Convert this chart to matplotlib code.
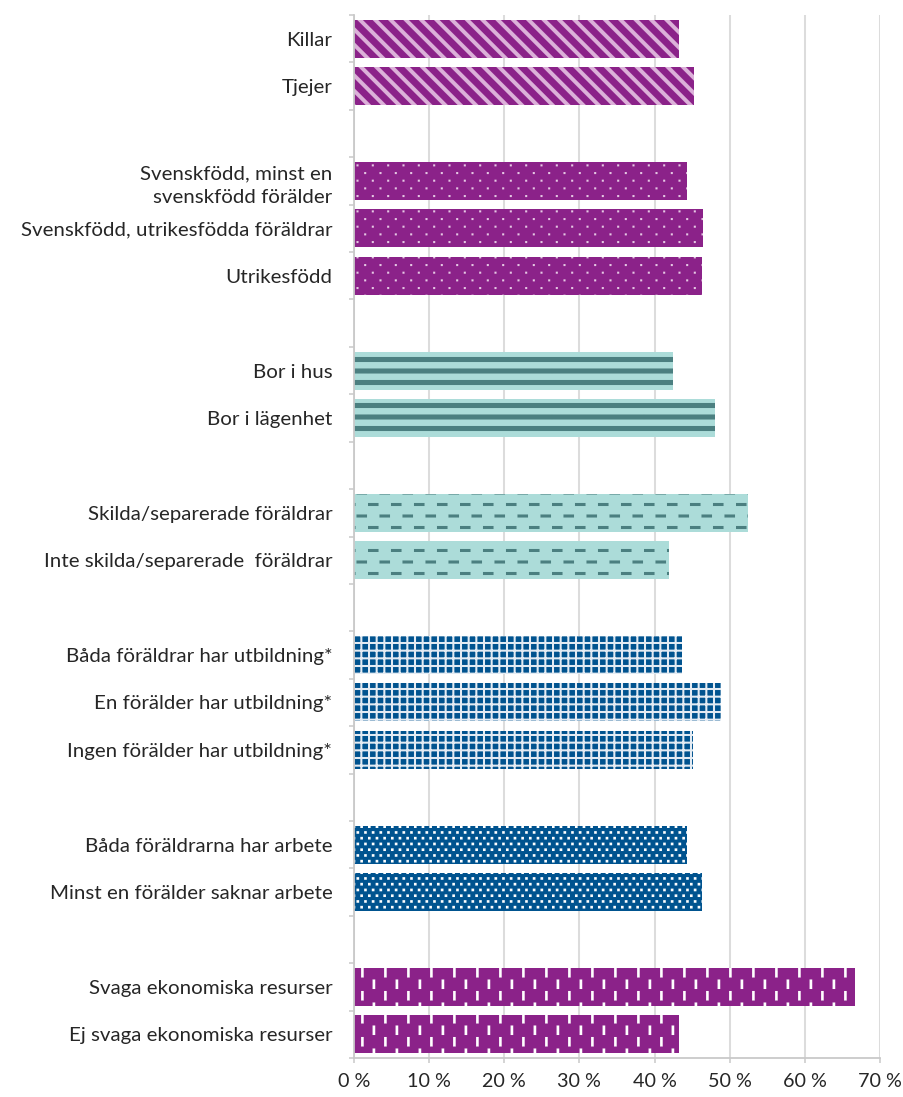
"""
Bar chart with Excel-like pattern fills, rebuilt in matplotlib.
Pattern fills are done with small custom hatch tiles (one tile = 1 inch).
"""
import matplotlib

matplotlib.use("Agg")
import matplotlib.hatch as mhatch
import matplotlib.pyplot as plt
from matplotlib.path import Path
from matplotlib.ticker import FixedLocator, FuncFormatter

DPI = 92  # hatch tile is dpi px wide, 92 gives the 23/11.5 px rhythm of the original

# ---------------------------------------------------------------- data
labels = [
    "Killar", "Tjejer",
    "Svenskfödd, minst en\nsvenskfödd förälder",
    "Svenskfödd, utrikesfödda föräldrar",
    "Utrikesfödd",
    "Bor i hus", "Bor i lägenhet",
    "Skilda/separerade föräldrar", "Inte skilda/separerade  föräldrar",
    "Båda föräldrar har utbildning*", "En förälder har utbildning*",
    "Ingen förälder har utbildning*",
    "Båda föräldrarna har arbete", "Minst en förälder saknar arbete",
    "Svaga ekonomiska resurser", "Ej svaga ekonomiska resurser",
]
values = [43.2, 45.3, 44.3, 46.5, 46.3, 42.4, 48.1, 52.4, 41.9,
          43.7, 48.8, 45.1, 44.3, 46.3, 66.7, 43.2]
group_sizes = [2, 3, 2, 2, 3, 2, 2]

# one (face, pattern colour, hatch key) per group
group_styles = [
    ("#8b2289", "#dcb1d9", "\\"),   # wide diagonal stripes
    ("#8b2289", "#e6c9e4", "."),    # sparse dots
    ("#acdcd9", "#4b7f80", "-"),    # horizontal stripes
    ("#acdcd9", "#4b7f80", "x"),    # dashed horizontal
    ("#00538f", "#e3ebf3", "+"),    # small grid
    ("#00538f", "#ffffff", "*"),    # dense dots
    ("#8b2289", "#ffffff", "|"),    # dashed vertical
]

x_ticks = [0, 10, 20, 30, 40, 50, 60, 70]


# ---------------------------------------------------------------- hatches
def px(n):
    return n / DPI


def rect(x0, y0, x1, y1):
    return [(x0, y0), (x1, y0), (x1, y1), (x0, y1), (x0, y0)]


class TileHatch(mhatch.HatchPatternBase):
    char = None

    def __init__(self, hatch, density):
        self.polys = self.make_polys() if self.char in hatch else []
        self.num_vertices = 5 * len(self.polys)

    def make_polys(self):
        return []

    def set_vertices_and_codes(self, vertices, codes):
        for i, poly in enumerate(self.polys):
            vertices[5 * i:5 * i + 5] = poly
            codes[5 * i] = Path.MOVETO
            codes[5 * i + 1:5 * i + 4] = Path.LINETO
            codes[5 * i + 4] = Path.CLOSEPOLY


class Diagonal(TileHatch):
    char = "\\"

    def make_polys(self):
        w = px(5.5)
        out = []
        for k in range(-7, 7):
            x0 = k / 6
            out.append([(x0, 1), (x0 + w, 1), (x0 + w + 1, 0), (x0 + 1, 0), (x0, 1)])
        return out


class SparseDots(TileHatch):
    char = "."

    def make_polys(self):
        s = px(2)
        out = []
        for r in range(12):
            for c in range(6):
                x = (c + 0.5 * (r % 2) + 0.25) / 6
                y = (r + 0.3) / 12
                out.append(rect(x, y, x + s, y + s))
        return out


class HStripes(TileHatch):
    char = "-"

    def make_polys(self):
        h, off = px(5), px(6)
        out = []
        for r in range(-1, 8):
            y = r / 8 + off
            out.append(rect(0, y, 1, y + h))
        return out


class HDashes(TileHatch):
    char = "x"

    def make_polys(self):
        length, t = px(10.5), px(3)
        out = []
        for r in range(8):
            for c in range(4):
                x = (c + 0.5 * (r % 2)) / 4
                y = r / 8
                out.append(rect(x, y, x + length, y + t))
        return out


class Grid(TileHatch):
    char = "+"

    def make_polys(self):
        lw = px(2)
        out = []
        for i in range(12):
            out.append(rect(i / 12, 0, i / 12 + lw, 1))
            out.append(rect(0, i / 12, 1, i / 12 + lw))
        return out


class DenseDots(TileHatch):
    char = "*"

    def make_polys(self):
        s = px(2.6)
        out = []
        for r in range(16):
            for c in range(12):
                x = (c + 0.5 * (r % 2)) / 12
                y = r / 16
                out.append(rect(x, y, x + s, y + s))
        return out


class VDashes(TileHatch):
    char = "|"

    def make_polys(self):
        w, length = px(2.6), px(9.5)
        out = []
        for r in range(8):
            for c in range(4):
                x = (c + 0.5 * (r % 2) + 0.2) / 4
                y = r / 8
                out.append(rect(x, y, x + w, y + length))
        return out


mhatch._hatch_types = [Diagonal, SparseDots, HStripes, HDashes,
                       Grid, DenseDots, VDashes]
plt.rcParams["hatch.linewidth"] = 0.05


# ---------------------------------------------------------------- layout
positions, faces, edges, hatches = [], [], [], []
pos = 0
for size, (face, edge, hatch) in zip(group_sizes, group_styles):
    for _ in range(size):
        positions.append(pos)
        faces.append(face)
        edges.append(edge)
        hatches.append(hatch)
        pos += 1
    pos += 1  # blank category between groups
n_slots = pos - 1

plt.rcParams["font.family"] = ["Lato", "DejaVu Sans"]
text_color = "#262626"
axis_grey = "#c9c9c9"

fig = plt.figure(figsize=(904 / DPI, 1097 / DPI), dpi=DPI)
ax = fig.add_axes([354 / 904, 39 / 1097, (880 - 354) / 904, (1082 - 39) / 1097])

bars = ax.barh(positions, values, height=0.8, color=faces,
               edgecolor=edges, linewidth=0, hatch=hatches, zorder=2)

ax.set_xlim(0, 70)
ax.set_ylim(n_slots - 0.5, -0.5)

ax.xaxis.set_major_locator(FixedLocator(x_ticks))
ax.xaxis.set_major_formatter(FuncFormatter(lambda v, _: f"{v:.0f} %"))
ax.grid(axis="x", color="#dcdcdc", linewidth=1.6, zorder=0)
ax.set_axisbelow(True)

ax.set_yticks(positions)
ax.set_yticklabels(labels)
ax.yaxis.set_minor_locator(FixedLocator([p - 0.5 for p in range(n_slots + 1)]))

ax.tick_params(axis="y", which="major", length=0, pad=17,
               labelsize=16, labelcolor=text_color)
ax.tick_params(axis="y", which="minor", length=4, width=1.2,
               color=axis_grey, direction="out")
ax.tick_params(axis="x", length=4, width=1.2, color=axis_grey,
               pad=8, labelsize=15.5, labelcolor=text_color)
for lab in ax.get_yticklabels():
    lab.set_linespacing(1.5)

for side in ("top", "right"):
    ax.spines[side].set_visible(False)
for side in ("left", "bottom"):
    ax.spines[side].set_color(axis_grey)
    ax.spines[side].set_linewidth(1.4)

fig.savefig("out.png", dpi=DPI)
